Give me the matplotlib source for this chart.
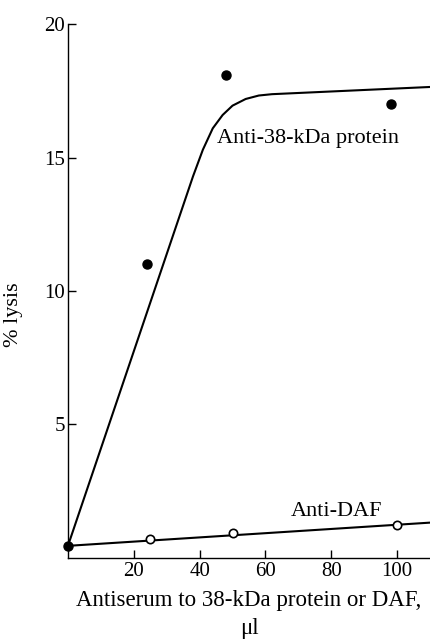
import matplotlib
matplotlib.use('Agg')
import matplotlib.pyplot as plt

plt.rcParams['font.family'] = ['Liberation Serif', 'DejaVu Serif']

# Anti-38-kDa protein: measured points and drawn curve
x_38 = [0, 24, 48, 98]
y_38 = [0.45, 11.0, 18.1, 17.0]
curve_x = [0, 38, 41, 44, 47, 50, 54, 58, 62, 110]
curve_y = [0.45, 14.3, 15.3, 16.1, 16.6, 16.95, 17.2, 17.33, 17.38, 17.65]

# Anti-DAF: measured points and fitted line
x_daf = [25, 50, 100]
y_daf = [0.71, 0.93, 1.23]
line_daf_x = [0, 110]
line_daf_y = [0.45, 1.32]

xticks = [20, 40, 60, 80, 100]
yticks = [5, 10, 15, 20]

fig = plt.figure(figsize=(4.3, 6.39), dpi=100)
ax = fig.add_axes([0.158, 0.127, 0.842, 0.835])

ax.plot(curve_x, curve_y, color='black', lw=1.5, zorder=2)
ax.plot(line_daf_x, line_daf_y, color='black', lw=1.5, zorder=2)
ax.plot(x_38, y_38, 'o', color='black', ms=6.5, zorder=3, clip_on=False)
ax.plot(x_daf, y_daf, 'o', mfc='white', mec='black', mew=1.2, ms=6, zorder=3)

ax.text(45.3, 15.7, 'Anti-38-kDa protein', fontsize=16, va='center', ha='left')
ax.text(81.5, 1.72, 'Anti-DAF', fontsize=16, va='center', ha='center')

ax.set_xlim(0, 110)
ax.set_ylim(0, 20)
ax.set_xticks(xticks)
ax.set_yticks(yticks)
ax.tick_params(direction='in', length=6, width=1, labelsize=15)
ax.tick_params(axis='x', pad=3)
ax.tick_params(axis='y', pad=2)
ax.spines['top'].set_visible(False)
ax.spines['right'].set_visible(False)
for s in ['left', 'bottom']:
    ax.spines[s].set_linewidth(1)

ax.set_xlabel('Antiserum to 38-kDa protein or DAF,\nμl', fontsize=16.5, linespacing=1.45)
ax.xaxis.set_label_coords(0.5, -0.06, transform=ax.transAxes)
ax.xaxis.label.set_va('top')
ax.set_ylabel('% lysis', fontsize=16)
ax.yaxis.set_label_coords(-0.125, 0.455)

fig.savefig('out.png', dpi=100)
